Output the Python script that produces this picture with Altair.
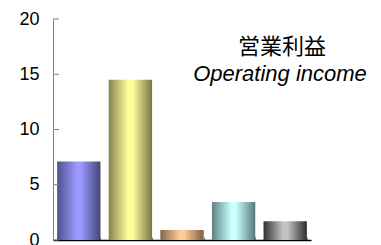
import altair as alt
import pandas as pd

categories = ["1", "2", "3", "4", "5"]
values = [7.1, 14.5, 0.9, 3.45, 1.7]
y_ticks = [0, 5, 10, 15, 20]
title_lines = ["営業利益", "Operating income"]

edge_left = ["#50508a", "#84844e", "#80664a", "#5f8282", "#333333"]
center = ["#9999ff", "#ffff99", "#ffcc99", "#ccffff", "#c4c4c4"]
edge_right = ["#454576", "#77774a", "#7a5f40", "#587878", "#2e2e2e"]

df = pd.DataFrame({"cat": categories, "value": values})

W, H = 258, 221

xscale = alt.Scale(domain=categories, paddingInner=0.16, paddingOuter=0.08)
yscale = alt.Scale(domain=[0, 20], nice=False, zero=True)

x_axis = alt.Axis(orient="top", offset=-H, labels=False, title=None,
                  tickBand="extent", tickSize=3, tickColor="#808080",
                  domainColor="black", domainWidth=1.5, grid=False)
y_axis = alt.Axis(values=y_ticks, ticks=False, tickSize=0, labelPadding=14,
                  labelFontSize=18, labelFont="Liberation Sans", labelColor="black",
                  domainColor="#808080", domainWidth=1, grid=False, title=None)

layers = []
for i, c in enumerate(categories):
    grad = {
        "gradient": "linear", "x1": 0, "x2": 1, "y1": 0, "y2": 0,
        "stops": [
            {"offset": 0, "color": edge_left[i]},
            {"offset": 0.45, "color": center[i]},
            {"offset": 0.55, "color": center[i]},
            {"offset": 1, "color": edge_right[i]},
        ],
    }
    layers.append(
        alt.Chart(df).transform_filter(alt.datum.cat == c)
        .mark_bar(color=grad)
        .encode(
            x=alt.X("cat:N", scale=xscale, axis=x_axis, sort=categories),
            y=alt.Y("value:Q", scale=yscale, axis=y_axis),
        )
    )

ticks = alt.Chart(pd.DataFrame({"value": y_ticks})).mark_rule(color="#808080", strokeWidth=1).encode(
    y=alt.Y("value:Q", scale=yscale, axis=y_axis),
    x=alt.value(0),
    x2=alt.value(6),
)

t1 = alt.Chart(pd.DataFrame({"t": [title_lines[0]]})).mark_text(
    font="Noto Sans CJK JP", fontSize=22, align="center", baseline="middle", color="black"
).encode(text="t:N", x=alt.value(229), y=alt.value(28))

t2 = alt.Chart(pd.DataFrame({"t": [title_lines[1]]})).mark_text(
    font="Liberation Sans", fontSize=22, fontStyle="italic", align="center",
    baseline="alphabetic", color="black"
).encode(text="t:N", x=alt.value(227), y=alt.value(62))

chart = alt.layer(*layers, ticks, t1, t2).properties(
    width=W, height=H,
    autosize=alt.AutoSizeParams(type="none"),
    padding={"left": 45, "top": 11, "right": 62, "bottom": 6},
    background="white",
).configure_view(stroke=None)

chart.save("out.html", embed_options={"renderer": "svg", "actions": False})
